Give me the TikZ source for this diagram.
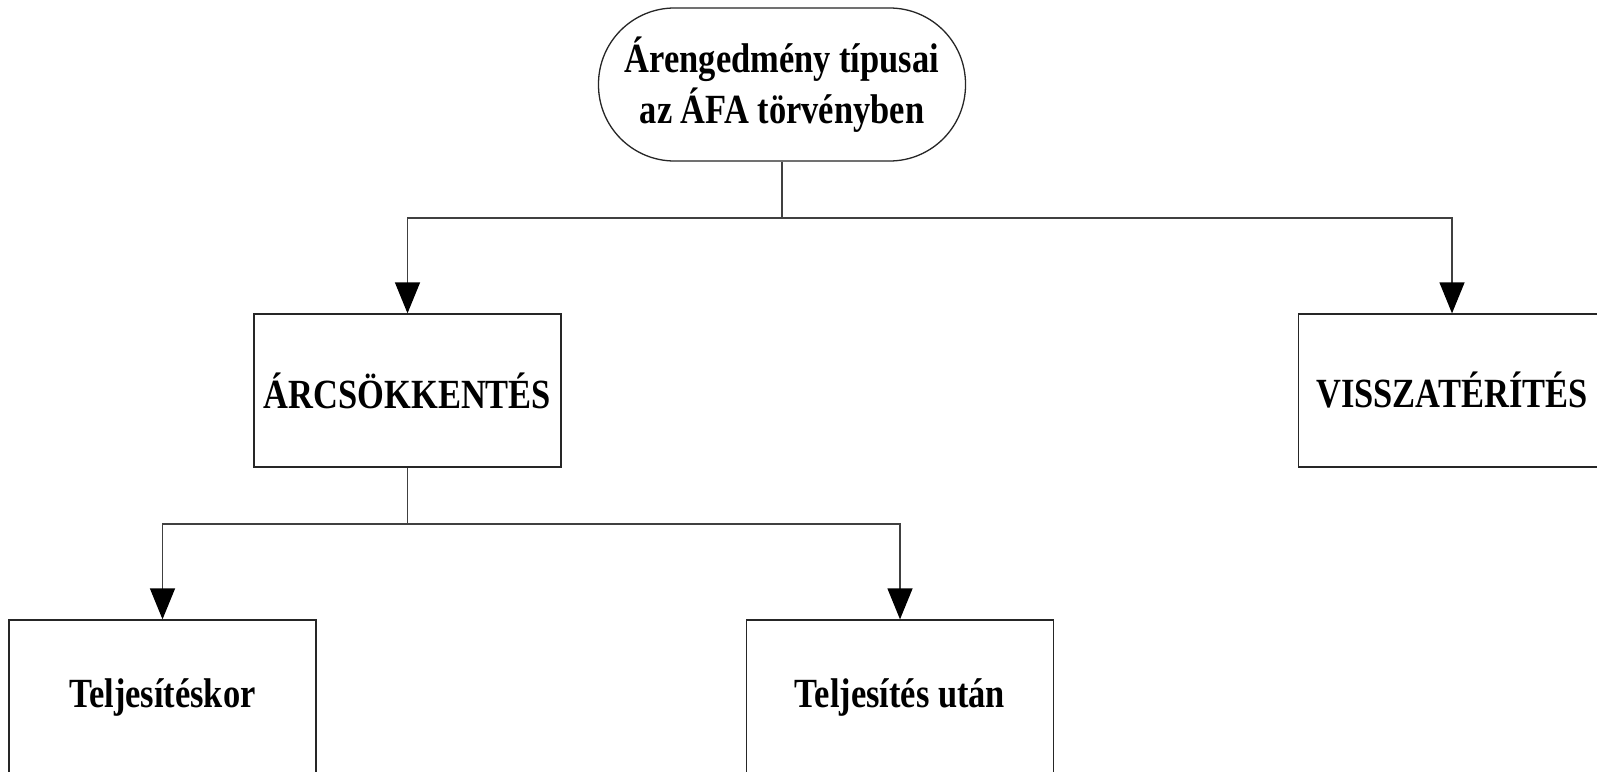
\documentclass[tikz,border=0pt]{standalone}
\usepackage{fontspec}
\setmainfont{Liberation Serif}[FakeStretch=0.83]
\usetikzlibrary{arrows.meta}
\begin{document}
\begin{tikzpicture}[x=1pt,y=-1pt,
  box/.style={draw=black!85,line width=1.3pt,minimum width=307pt,minimum height=153pt,inner sep=0pt,
    font=\fontsize{41.5}{51}\selectfont\bfseries,align=center},
  conn/.style={draw=black!75,line width=1.3pt},
  arr/.style={conn,-{Triangle[width=25pt,length=31pt,color=black]}}]
\useasboundingbox (0,0) rectangle (1597,771);
\fill[white] (0,0) rectangle (1597,771);
\node[box,minimum width=367pt,rounded corners=76pt] (top) at (782,84.5) {Árengedmény típusai\\az ÁFA törvényben};
\node[box] (arc) at (407.5,390.5) {ÁRCSÖKKENTÉS};
\node[box] (vis) at (1452,390.5) {VISSZATÉRÍTÉS};
\node[box,minimum height=154pt] (tk) at (162.5,697) {Teljesítéskor};
\node[box,minimum height=154pt] (tu) at (900,697) {Teljesítés után};
\coordinate (j1) at (782,218);
\coordinate (j2) at (407.5,524);
\draw[conn] (top.south) -- (j1);
\draw[arr] (j1) -| (arc.north);
\draw[arr] (j1) -| (vis.north);
\draw[conn] (arc.south) -- (j2);
\draw[arr] (j2) -| (tk.north);
\draw[arr] (j2) -| (tu.north);
\end{tikzpicture}
\end{document}
